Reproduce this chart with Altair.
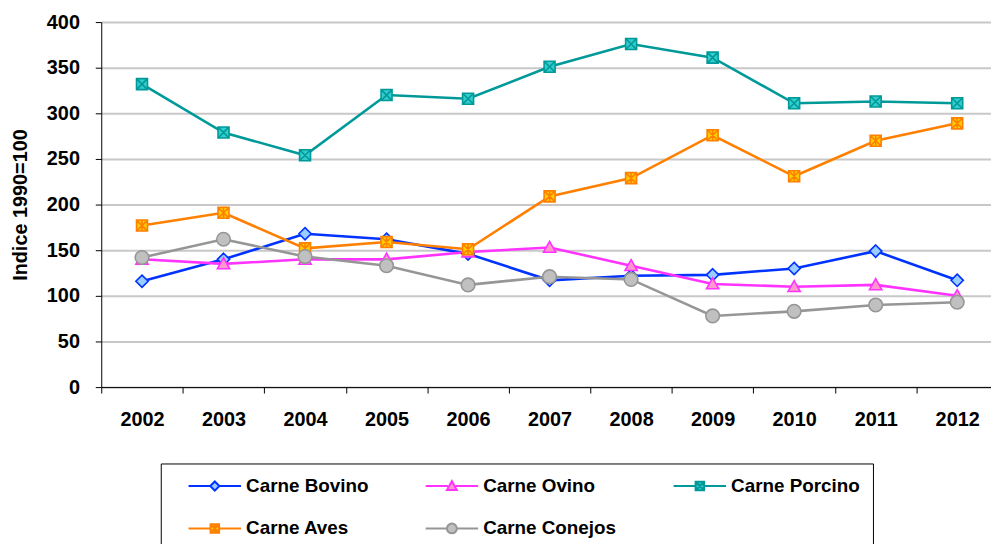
import altair as alt
import pandas as pd

years = ["2002", "2003", "2004", "2005", "2006", "2007", "2008", "2009", "2010", "2011", "2012"]
series = ["Carne Bovino", "Carne Ovino", "Carne Porcino", "Carne Aves", "Carne Conejos"]

bovino = [116, 140, 168, 162, 146, 117, 122, 123, 130, 149, 117]
ovino = [140, 135, 140, 140, 148, 153, 133, 113, 110, 112, 100]
porcino = [332, 279, 254, 320, 316, 351, 376, 361, 311, 313, 311]
aves = [177, 191, 152, 159, 151, 209, 229, 276, 231, 270, 289]
conejos = [142, 162, 143, 133, 112, 121, 118, 78, 83, 90, 93]

line_colors = ["#0033ff", "#ff33ff", "#009999", "#ff8000", "#969696"]
fill_colors = ["#99ccff", "#ff99cc", "#33cccc", "#ffcc00", "#c0c0c0"]

marker_paths = [
    "M0,-0.95L0.95,0L0,0.95L-0.95,0Z",
    "M0,-0.95L0.95,0.75L-0.95,0.75Z",
    "M-0.85,-0.85H0.85V0.85H-0.85ZM-0.85,-0.85L0.85,0.85M0.85,-0.85L-0.85,0.85",
    "M-0.85,-0.85H0.85V0.85H-0.85ZM-0.85,-0.85L0.85,0.85M0.85,-0.85L-0.85,0.85M0,-0.85V0.85",
    "M-1.05,0A1.05,1.05 0 1,0 1.05,0A1.05,1.05 0 1,0 -1.05,0Z",
]
legend_paths = [
    "M-4,0H-0.7M0.7,0H4M0,-0.7L0.7,0L0,0.7L-0.7,0Z",
    "M-4,0H-0.6M0.6,0H4M0,-0.75L0.75,0.6L-0.75,0.6Z",
    "M-4,0H-0.65M0.65,0H4M-0.65,-0.65H0.65V0.65H-0.65ZM-0.65,-0.65L0.65,0.65M0.65,-0.65L-0.65,0.65",
    "M-4,0H-0.65M0.65,0H4M-0.65,-0.65H0.65V0.65H-0.65ZM-0.65,-0.65L0.65,0.65M0.65,-0.65L-0.65,0.65M0,-0.65V0.65",
    "M-4,0H-0.75M0.75,0H4M-0.75,0A0.75,0.75 0 1,0 0.75,0A0.75,0.75 0 1,0 -0.75,0Z",
]

rows = []
for s, vals in zip(series, [bovino, ovino, porcino, aves, conejos]):
    for yr, v in zip(years, vals):
        rows.append({"Año": yr, "Valor": v, "Serie": s, "Leyenda": s})
df = pd.DataFrame(rows)

FONT = "Liberation Sans"

x_enc = alt.X(
    "Año:O",
    bandPosition=0.5,
    scale=alt.Scale(type="band", domain=years, range=[0, 904], paddingInner=0, paddingOuter=0),
    axis=alt.Axis(
        title=None, labelAngle=0, tickBand="extent", tickSize=6, tickColor="black",
        domainColor="black", labelFont=FONT, labelFontSize=20, labelFontWeight="bold",
        labelColor="black", labelPadding=17, grid=False,
    ),
)
y_enc = alt.Y(
    "Valor:Q",
    scale=alt.Scale(domain=[0, 400], nice=False),
    axis=alt.Axis(
        values=list(range(0, 401, 50)), title="Indice 1990=100", titleFont=FONT,
        titleFontSize=20, titleFontWeight="bold", titleColor="black", titlePadding=16,
        labelFont=FONT, labelFontSize=20, labelFontWeight="bold", labelColor="black",
        labelPadding=16, tickSize=6, tickColor="black", domainColor="black",
        grid=True, gridColor="#c8c8c8", gridWidth=2,
    ),
)

base = alt.Chart(df)

lines = base.mark_line(strokeWidth=2.6).encode(
    x=x_enc, y=y_enc,
    stroke=alt.Stroke("Serie:N", scale=alt.Scale(domain=series, range=line_colors), legend=None),
)

points = base.mark_point(filled=True, opacity=1, size=170, strokeWidth=1.6).encode(
    x=x_enc, y=y_enc,
    shape=alt.Shape("Serie:N", scale=alt.Scale(domain=series, range=marker_paths), legend=None),
    fill=alt.Fill("Serie:N", scale=alt.Scale(domain=series, range=fill_colors), legend=None),
    stroke=alt.Stroke("Serie:N", scale=alt.Scale(domain=series, range=line_colors), legend=None),
)

leg = alt.Legend(
    title=None, orient="none", legendX=60, legendY=445, columns=3, direction="horizontal",
    padding=13, strokeColor="black", fillColor="white",
    symbolSize=175, symbolStrokeWidth=2, symbolOffset=32, labelOffset=22,
    labelFont=FONT, labelFontSize=19, labelFontWeight="bold", labelColor="black",
    columnPadding=42, rowPadding=23, labelLimit=300,
)

legend_layer = base.transform_filter("false").mark_point(
    filled=True, opacity=1, size=175, strokeWidth=2
).encode(
    x=x_enc, y=y_enc,
    shape=alt.Shape("Leyenda:N", scale=alt.Scale(domain=series, range=legend_paths), legend=leg),
    fill=alt.Fill("Leyenda:N", scale=alt.Scale(domain=series, range=fill_colors), legend=leg),
    stroke=alt.Stroke("Leyenda:N", scale=alt.Scale(domain=series, range=line_colors), legend=leg),
)

chart = alt.layer(lines, points, legend_layer).resolve_scale(
    shape="independent", fill="independent", stroke="independent"
).properties(
    width=897, height=368,
    autosize=alt.AutoSizeParams(type="none"),
    padding={"left": 94, "top": 12, "right": 0, "bottom": 156},
).configure_view(strokeWidth=0)

chart.save("out.html", embed_options={"renderer": "svg", "actions": False})
